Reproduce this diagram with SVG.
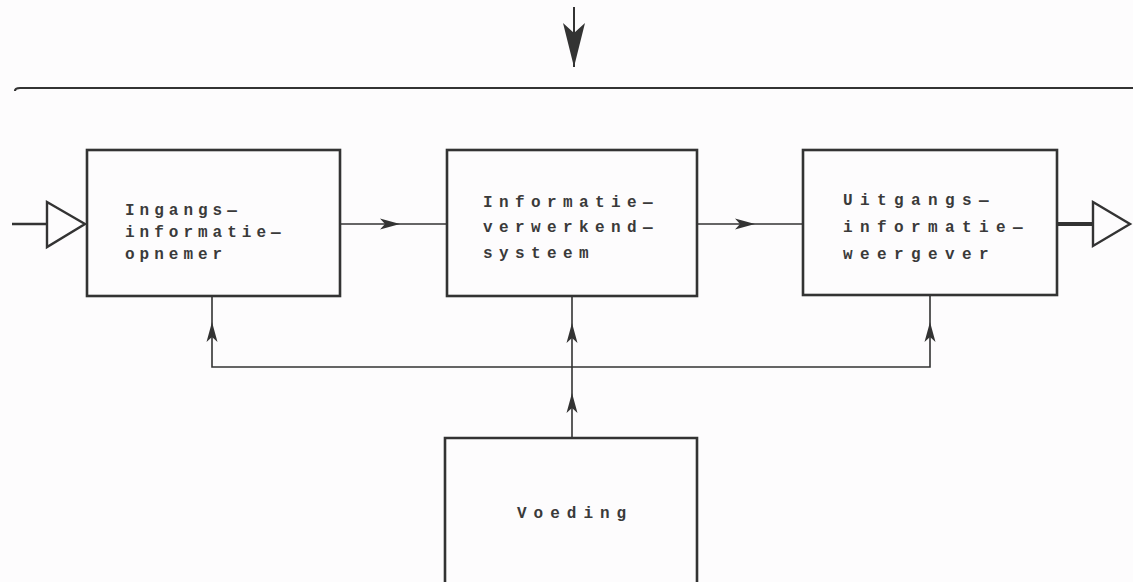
<svg xmlns="http://www.w3.org/2000/svg" xmlns:xlink="http://www.w3.org/1999/xlink" width="1133" height="582" viewBox="0 0 1133 582">
<style>
.box{fill:none;stroke:#333;stroke-width:2.6}
.ln{fill:none;stroke:#333;stroke-width:1.6}
.ah{fill:#333;stroke:none}
.tri{fill:#fdfcfd;stroke:#333;stroke-width:2.4;stroke-linejoin:miter}
.t{font-family:"Liberation Mono","DejaVu Sans Mono",monospace;font-weight:bold;font-size:16px;fill:#3a3a3a}
.s1{letter-spacing:5px}
.s2{letter-spacing:6.4px}
.s3{letter-spacing:7.4px}
.s4{letter-spacing:7px}
</style>
<defs>
<path id="ah" d="M0,0 L-20,-5.5 L-15,0 L-20,5.5 Z"/>
</defs>
<rect width="1133" height="582" fill="#fdfcfd"/>
<g id="connectors">
<path class="ln" d="M574,7 V67" style="stroke-width:2"/>
<path class="ah" d="M563,23 L574,67 L585,23 L574,33 Z"/>
<path class="ln" d="M15,91 Q15,88 20,88 H1133" style="stroke-width:2.2"/>
<path class="ln" d="M12,224 H47" style="stroke-width:2.6"/>
<path class="ln" d="M340,224 H447"/>
<use href="#ah" class="ah" transform="translate(400,224)"/>
<path class="ln" d="M697,224 H803"/>
<use href="#ah" class="ah" transform="translate(755,224)"/>
<path class="ln" d="M1057,224 H1093" style="stroke-width:4"/>
<path class="ln" d="M212,297 V367 H930 V295"/>
<path class="ln" d="M572,296 V438"/>
<use href="#ah" class="ah" transform="translate(212,322) rotate(-90)"/>
<use href="#ah" class="ah" transform="translate(572,323) rotate(-90)"/>
<use href="#ah" class="ah" transform="translate(572,393) rotate(-90)"/>
<use href="#ah" class="ah" transform="translate(930,322) rotate(-90)"/>
</g>
<g id="input">
<path class="tri" d="M47,202 L85,224 L47,247 Z"/>
</g>
<g id="output">
<path class="tri" d="M1093,202 L1130,224 L1093,246 Z"/>
</g>
<g id="opnemer">
<rect class="box" x="87" y="150" width="253" height="146"/>
<text class="t s1" x="125" y="215">Ingangs—</text>
<text class="t s1" x="125" y="237">informatie—</text>
<text class="t s1" x="125" y="259">opnemer</text>
</g>
<g id="verwerkend">
<rect class="box" x="447" y="150" width="250" height="146"/>
<text class="t s2" x="483" y="207">Informatie—</text>
<text class="t s2" x="483" y="232">verwerkend—</text>
<text class="t s2" x="483" y="258">systeem</text>
</g>
<g id="weergever">
<rect class="box" x="803" y="150" width="254" height="145"/>
<text class="t s3" x="843" y="205">Uitgangs—</text>
<text class="t s3" x="843" y="232">informatie—</text>
<text class="t s3" x="843" y="259">weergever</text>
</g>
<g id="voeding">
<path class="box" d="M445,590 V438 H697 V590"/>
<text class="t s4" x="517" y="518">Voeding</text>
</g>
</svg>
